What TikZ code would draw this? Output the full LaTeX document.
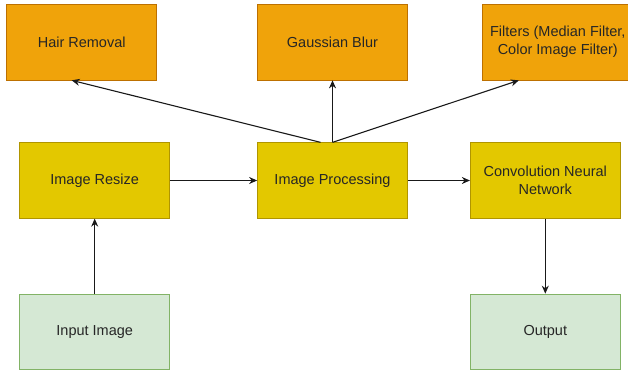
\documentclass[tikz,border=0pt]{standalone}
\usepackage{fontspec}
\setmainfont{Liberation Sans}
\usetikzlibrary{positioning,arrows.meta}
\definecolor{orangefill}{HTML}{F0A30A}
\definecolor{orangeline}{HTML}{BD7000}
\definecolor{yellowfill}{HTML}{E3C800}
\definecolor{yellowline}{HTML}{B09500}
\definecolor{greenfill}{HTML}{D5E8D4}
\definecolor{greenline}{HTML}{82B366}
\tikzstyle{stage} = [draw,line width=0.8pt,rectangle,minimum width=150pt,minimum height=75.5pt,inner sep=0,align=center,font=\fontsize{14.5}{18}\selectfont,text=black!85]
\tikzstyle{prep} = [stage,fill=orangefill,draw=orangeline]
\tikzstyle{core} = [stage,fill=yellowfill,draw=yellowline]
\tikzstyle{io} = [stage,fill=greenfill,draw=greenline]
\tikzstyle{flow} = [-{Stealth[length=8pt,width=7pt]},line width=1.1pt,black!90]
\def \vgap {62pt}

\begin{document}
\begin{tikzpicture}[x=1pt,y=1pt,node distance=\vgap]
      \clip (-332.5,-188.5) rectangle (295.5,180.5);
      \node[core]  (proc) {Image Processing};
      \node[core,left=87pt of proc]  (resize) {Image Resize};
      \node[core,right=62pt of proc]  (cnn) {Convolution Neural\\Network};
      \node[prep,above=of proc]  (blur) {Gaussian Blur};
      \node[prep,left=100pt of blur]  (hair) {Hair Removal};
      \node[prep,right=74.5pt of blur]  (filt) {Filters (Median Filter,\\Color Image Filter)};
      \node[io,below=75pt of resize]  (input) {Input Image};
      \node[io,below=75pt of cnn]  (output) {Output};
      \draw[flow] (input) -- (resize);
      \draw[flow] (resize) -- (proc);
      \draw[flow] (proc) -- (cnn);
      \draw[flow] (cnn) -- (output);
      \draw[flow] ([xshift=-12pt]proc.north) -- ([xshift=-10pt]hair.south);
      \draw[flow] (proc.north) -- (blur.south);
      \draw[flow] (proc.north) -- ([xshift=-39pt]filt.south);
    \end{tikzpicture}
\end{document}
